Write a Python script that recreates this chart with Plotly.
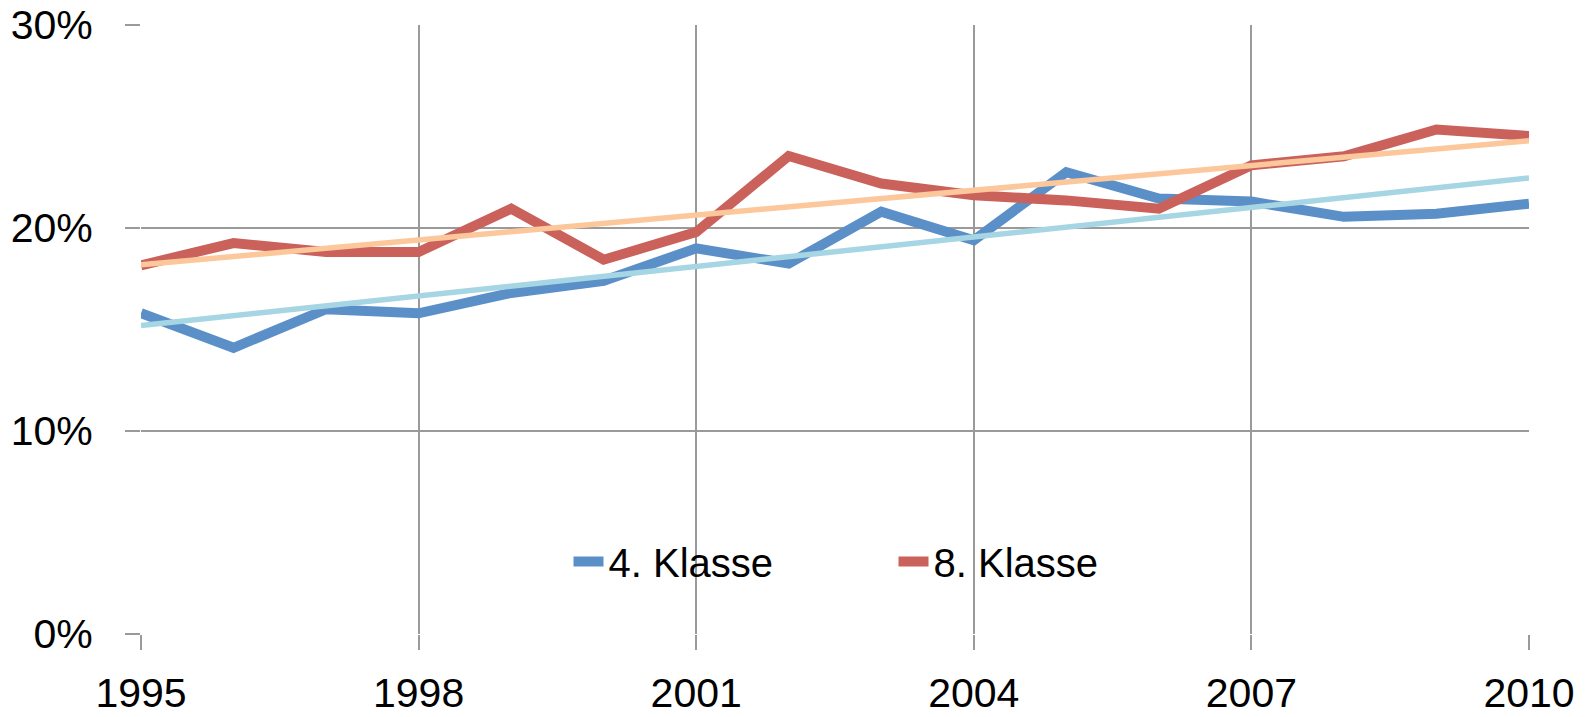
import numpy as np
import plotly.graph_objects as go

years = list(range(1995, 2011))
klasse4 = [15.8, 14.1, 16.0, 15.8, 16.8, 17.4, 19.0, 18.25, 20.8, 19.4, 22.75, 21.45, 21.3, 20.55, 20.7, 21.2]
klasse8 = [18.16, 19.26, 18.82, 18.82, 20.95, 18.44, 19.8, 23.55, 22.19, 21.61, 21.36, 20.95, 23.09, 23.53, 24.85, 24.53]
series_names = ["4. Klasse", "8. Klasse"]
x_ticks = [1995, 1998, 2001, 2004, 2007, 2010]
y_ticks = [0, 10, 20, 30]
y_tick_labels = ["0%", "10%", "20%", "30%"]

FONT = "Liberation Sans, Arial, sans-serif"
c4, c8 = "#5B8FC8", "#CB615B"
t4, t8 = "#A6D6E4", "#FCC79B"
GRID = "#9A9A9A"

x = np.array(years, dtype=float)
def trend(vals):
    a, b = np.polyfit(x, np.array(vals) / 100.0, 1)
    return list(a * x + b)

fig = go.Figure()
fig.add_trace(go.Scatter(x=years, y=[v / 100 for v in klasse4], mode="lines", name=series_names[0],
                         line=dict(color=c4, width=10)))
fig.add_trace(go.Scatter(x=years, y=[v / 100 for v in klasse8], mode="lines", name=series_names[1],
                         line=dict(color=c8, width=10)))
fig.add_trace(go.Scatter(x=years, y=trend(klasse4), mode="lines", showlegend=False,
                         line=dict(color=t4, width=5.5), hoverinfo="skip"))
fig.add_trace(go.Scatter(x=years, y=trend(klasse8), mode="lines", showlegend=False,
                         line=dict(color=t8, width=5.5), hoverinfo="skip"))

fig.update_layout(
    width=1585, height=717,
    margin=dict(l=141, r=56, t=25, b=83, autoexpand=False),
    paper_bgcolor="white", plot_bgcolor="white",
    font=dict(family=FONT, size=40, color="black"),
    legend=dict(orientation="h", x=0.308, y=0.119, xanchor="left", yanchor="middle",
                bgcolor="rgba(0,0,0,0)", font=dict(size=40),
                entrywidth=280, entrywidthmode="pixels", itemwidth=30),
    showlegend=True,
)
fig.update_xaxes(range=[1995, 2010], tickmode="array", tickvals=x_ticks,
                 showgrid=True, gridcolor=GRID, gridwidth=1.5,
                 ticks="outside", ticklen=15, tickcolor=GRID, tickwidth=1.5,
                 showline=False, zeroline=False, ticklabelstandoff=8, automargin=False,
                 ticklabeloverflow="allow",
                 tickfont=dict(family=FONT, size=41))
fig.update_yaxes(range=[0, 0.30], tickmode="array", tickvals=[v / 100 for v in y_ticks],
                 ticktext=y_tick_labels,
                 showgrid=True, gridcolor=GRID, gridwidth=1.5,
                 ticks="outside", ticklen=15, tickcolor=GRID, tickwidth=1.5,
                 showline=False, zeroline=False, ticklabelstandoff=24, automargin=False,
                 ticklabeloverflow="allow",
                 tickfont=dict(family=FONT, size=41))

fig.write_html("out.html", config={"displayModeBar": False},
               post_script="document.body.style.margin='0';")
